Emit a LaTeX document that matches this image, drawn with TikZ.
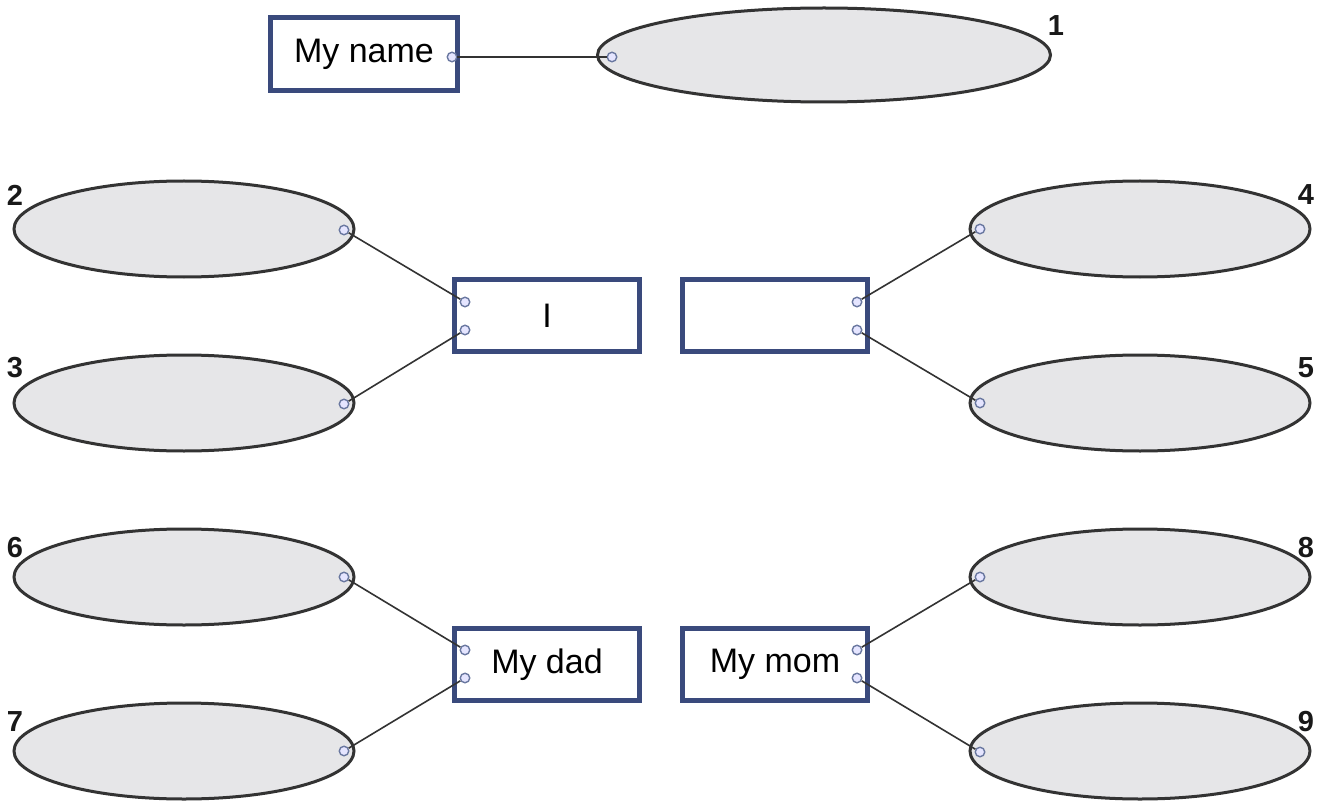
\documentclass[tikz,border=0pt]{standalone}
\usepackage{fontspec}
\setmainfont{Liberation Sans}
\usetikzlibrary{shapes.geometric}
\definecolor{boxblue}{HTML}{3A4A7C}
\definecolor{ellgray}{HTML}{E6E6E8}
\definecolor{elledge}{HTML}{333333}
\definecolor{dotedge}{HTML}{6A78A0}
\begin{document}
\begin{tikzpicture}[x=1pt,y=-1pt,
  labelbox/.style={draw=boxblue,line width=5pt,fill=white,rectangle,inner sep=0pt,
    minimum width=185pt,minimum height=72pt,font=\fontsize{34}{40}\selectfont},
  blank/.style={draw=elledge,line width=3pt,fill=ellgray,ellipse,inner sep=0pt,
    minimum width=340pt,minimum height=96pt},
  num/.style={font=\fontsize{29}{32}\selectfont\bfseries,text=black!90,inner sep=0pt},
  pin/.style={circle,draw=dotedge,fill=white!90!blue,line width=1.4pt,inner sep=0pt,minimum size=9.5pt},
  link/.style={draw=black!80,line width=1.6pt}]
\useasboundingbox[fill=white] (0,0) rectangle (1327,802);
% boxes
\node[labelbox,minimum width=187pt,minimum height=73pt] (name) at (364,54) {My name\hspace{18pt}};
\node[labelbox] (me) at (547,315.5) {I};
\node[labelbox] (other) at (775,315.5) {};
\node[labelbox] (dad) at (547,664.5) {My dad};
\node[labelbox] (mom) at (775,664.5) {My mom};
% ellipses
\node[blank,minimum width=453pt,minimum height=94pt] (e1) at (824,55) {};
\node[blank] (e2) at (184,229) {};
\node[blank] (e3) at (184,403) {};
\node[blank] (e4) at (1140,229) {};
\node[blank] (e5) at (1140,403) {};
\node[blank] (e6) at (184,577) {};
\node[blank] (e7) at (184,751) {};
\node[blank] (e8) at (1140,577) {};
\node[blank] (e9) at (1140,751) {};
% numbers
\node[num] (n1) at (1056,26) {1};
\node[num] (n2) at (15,195) {2};
\node[num] (n3) at (15,368) {3};
\node[num] (n4) at (1306,195) {4};
\node[num] (n5) at (1306,368) {5};
\node[num] (n6) at (15,548) {6};
\node[num] (n7) at (15,722) {7};
\node[num] (n8) at (1306,548) {8};
\node[num] (n9) at (1306,722) {9};
% pins
\node[pin] (pname) at (452,57) {};
\node[pin] (pe1) at (612,57) {};
\node[pin] (pe2) at (344,230) {};
\node[pin] (pe3) at (344,404) {};
\node[pin] (pe4) at (980,229) {};
\node[pin] (pe5) at (980,403) {};
\node[pin] (pe6) at (344,577) {};
\node[pin] (pe7) at (344,751) {};
\node[pin] (pe8) at (980,577) {};
\node[pin] (pe9) at (980,752) {};
\node[pin] (pme1) at (465,302) {};
\node[pin] (pme2) at (465,330) {};
\node[pin] (pot1) at (857,302) {};
\node[pin] (pot2) at (857,330) {};
\node[pin] (pda1) at (465,650) {};
\node[pin] (pda2) at (465,678) {};
\node[pin] (pmo1) at (857,650) {};
\node[pin] (pmo2) at (857,678) {};
% links
\draw[link] (pname) -- (pe1);
\draw[link] (pe2) -- (pme1);
\draw[link] (pe3) -- (pme2);
\draw[link] (pot1) -- (pe4);
\draw[link] (pot2) -- (pe5);
\draw[link] (pe6) -- (pda1);
\draw[link] (pe7) -- (pda2);
\draw[link] (pmo1) -- (pe8);
\draw[link] (pmo2) -- (pe9);
\end{tikzpicture}
\end{document}
